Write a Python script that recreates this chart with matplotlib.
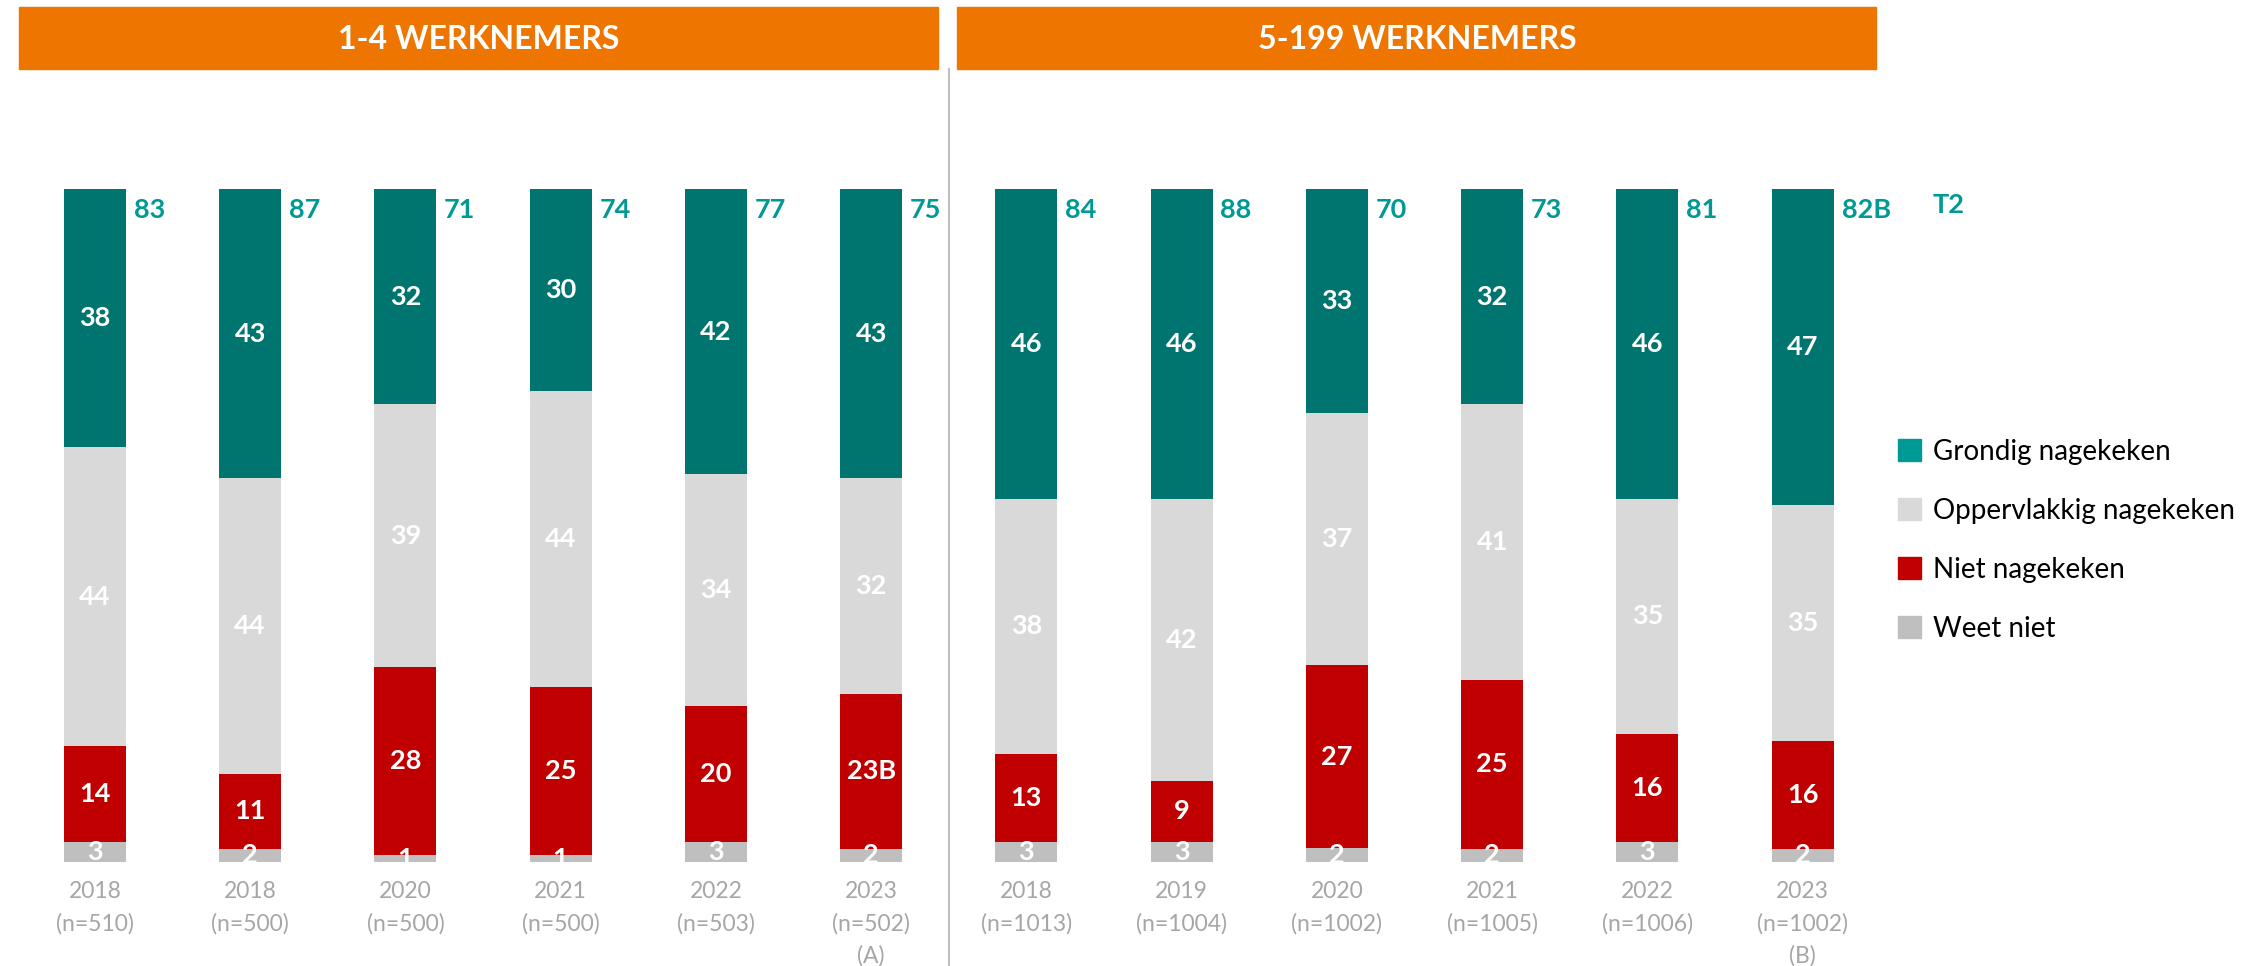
import numpy as np
import matplotlib
matplotlib.use('Agg')
import matplotlib.pyplot as plt
from matplotlib.patches import Rectangle, Patch
from matplotlib.transforms import blended_transform_factory

plt.rcParams['font.family'] = ['Lato', 'DejaVu Sans']

# data (percentages)
groups = ['1-4 WERKNEMERS', '5-199 WERKNEMERS']
years = ['2018', '2018', '2020', '2021', '2022', '2023',
         '2018', '2019', '2020', '2021', '2022', '2023']
n_labels = ['(n=510)', '(n=500)', '(n=500)', '(n=500)', '(n=503)', '(n=502)',
            '(n=1013)', '(n=1004)', '(n=1002)', '(n=1005)', '(n=1006)', '(n=1002)']
extra = ['', '', '', '', '', '(A)', '', '', '', '', '', '(B)']
grondig = [38, 43, 32, 30, 42, 43, 46, 46, 33, 32, 46, 47]
oppervlakkig = [44, 44, 39, 44, 34, 32, 38, 42, 37, 41, 35, 35]
niet = [14, 11, 28, 25, 20, 23, 13, 9, 27, 25, 16, 16]
weet = [3, 2, 1, 1, 3, 2, 3, 3, 2, 2, 3, 2]
t2 = [83, 87, 71, 74, 77, 75, 84, 88, 70, 73, 81, 82]
niet_sig = ['', '', '', '', '', 'B', '', '', '', '', '', '']
t2_sig = ['', '', '', '', '', '', '', '', '', '', '', 'B']

series_names = ['Weet niet', 'Niet nagekeken', 'Oppervlakkig nagekeken', 'Grondig nagekeken']
bar_colors = ['#BFBFBF', '#C00000', '#D9D9D9', '#007570']
legend_colors = ['#BFBFBF', '#C00000', '#D9D9D9', '#009A96']
orange = '#EE7600'
teal_txt = '#009A96'
grey_txt = '#A6A6A6'

fig = plt.figure(figsize=(22.52, 9.66), dpi=100)
ax = fig.add_axes([0, 0.1077, 1, 0.6967])

x = np.arange(len(years))
raw = np.array([weet, niet, oppervlakkig, grondig], dtype=float)
pct = raw / raw.sum(axis=0) * 100  # 100% stacked
suffixes = [[''] * 12, niet_sig, [''] * 12, [''] * 12]

bottom = np.zeros(len(x))
for k in range(4):
    ax.bar(x, pct[k], 0.4, bottom=bottom, color=bar_colors[k], linewidth=0)
    for j in range(len(x)):
        ax.text(x[j], bottom[j] + pct[k][j] / 2, f"{int(raw[k][j])}{suffixes[k][j]}",
                ha='center', va='center', color='white', fontsize=19.5, fontweight='bold')
    bottom += pct[k]

# T2 totals
for j in range(len(x)):
    ax.text(x[j] + 0.25, 96.9, f"{t2[j]}{t2_sig[j]}", ha='left', va='center',
            color=teal_txt, fontsize=19.5, fontweight='bold')
ax.text(11.835, 97.6, 'T2', ha='left', va='center', color=teal_txt,
        fontsize=19.5, fontweight='bold')

ax.set_xlim(-0.611, 13.894)
ax.set_ylim(0, 100)
ax.set_yticks([])
for s in ax.spines.values():
    s.set_visible(False)

ticklabels = []
for y, n, e in zip(years, n_labels, extra):
    lab = f"{y}\n{n}"
    if e:
        lab += f"\n{e}"
    ticklabels.append(lab)
ax.set_xticks(x)
ax.set_xticklabels(ticklabels, color=grey_txt, fontsize=16.5, linespacing=1.6)
ax.tick_params(axis='x', length=0, pad=14)

# group headers
trans = blended_transform_factory(ax.transData, ax.transAxes)
for x0, name in zip([-0.49, 5.555], groups):
    ax.add_patch(Rectangle((x0, 1.178), 5.92, 0.0924, transform=trans,
                           color=orange, clip_on=False))
    ax.text(x0 + 2.96, 1.222, name, transform=trans, ha='center', va='center',
            color='white', fontsize=23, fontweight='bold')

ax.plot([5.5, 5.5], [1.178, -0.155], transform=trans, color='#BFBFBF',
        linewidth=1.5, clip_on=False)

handles = [Patch(color=legend_colors[k], label=series_names[k]) for k in [3, 2, 1, 0]]
fig.legend(handles=handles, loc='center left', bbox_to_anchor=(0.8428, 0.4409),
           frameon=False, fontsize=20, labelspacing=1.19, handlelength=0.83,
           handleheight=0.83, handletextpad=0.43, borderpad=0, borderaxespad=0)

fig.savefig('out.png', dpi=100)
